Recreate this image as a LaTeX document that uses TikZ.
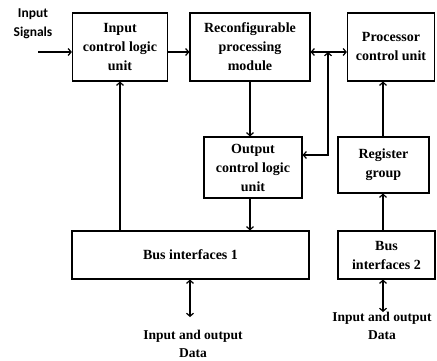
\documentclass[tikz,border=0pt]{standalone}
\usepackage{fontspec}
\setmainfont{Liberation Serif}
\newfontfamily\sigfont{Carlito}
\usetikzlibrary{arrows.meta}
\begin{document}
\begin{tikzpicture}[x=1pt,y=-1pt,
  blk/.style={draw,line width=1.2pt,rectangle,align=center,inner sep=1pt,font=\fontsize{14}{19}\selectfont\bfseries},
  lbl/.style={align=center,inner sep=0pt,font=\fontsize{13.5}{18}\selectfont\bfseries},
  conn/.style={line width=1.2pt,arrows={-Straight Barb[length=3pt,width=7pt,line width=1.2pt]}},
  dconn/.style={line width=1.2pt,arrows={Straight Barb[length=3pt,width=7pt,line width=1.2pt]-Straight Barb[length=3pt,width=7pt,line width=1.2pt]}}]
\useasboundingbox (0,0) rectangle (437,361);
\node[blk,minimum width=95pt,minimum height=68pt] (in) at (120,47) {Input\\control logic\\unit};
\node[blk,minimum width=120pt,minimum height=68pt] (rec) at (250,47) {Reconfigurable\\processing\\module};
\node[blk,minimum width=87pt,minimum height=68pt] (proc) at (391,47) {Processor\\control unit};
\node[blk,minimum width=98pt,minimum height=61pt] (out) at (253,167.5) {Output\\control logic\\unit};
\node[blk,minimum width=91pt,minimum height=56pt] (reg) at (383.5,165) {Register\\group};
\node[blk,minimum width=237pt,minimum height=48pt] (bus1) at (190.5,255) {Bus interfaces 1};
\node[blk,minimum width=97pt,minimum height=48pt] (bus2) at (386.5,255) {Bus\\interfaces 2};
\node[align=center,inner sep=0pt,font=\sigfont\fontsize{13.5}{19}\selectfont\bfseries] (sig) at (33,24) {Input\\Signals};
\node[lbl] (io1) at (193,344) {Input and output\\Data};
\node[lbl] (io2) at (382,326) {Input and output\\Data};
\coordinate (s0) at (38,52);
\coordinate (j) at (328,52);
\coordinate (k) at (328,155);
\coordinate (d1) at (190,317);
\coordinate (d2) at (383,312);
\draw[conn] (s0) -- (in.west |- s0);
\draw[conn] (in.east |- j) -- (rec.west |- j);
\draw[dconn] (rec.east |- j) -- (proc.west |- j);
\draw[dconn] (out.east |- k) -- (k) -- (j);
\draw[conn] (rec.south) -- (out.north -| rec.south);
\draw[conn] (out.south -| rec.south) -- (bus1.north -| rec.south);
\draw[conn] (bus1.north -| in.south) -- (in.south);
\draw[conn] (reg.north -| d2) -- (proc.south -| d2);
\draw[conn] (bus2.north -| d2) -- (reg.south -| d2);
\draw[dconn] (bus1.south -| d1) -- (d1);
\draw[dconn] (bus2.south -| d2) -- (d2);
\end{tikzpicture}
\end{document}
